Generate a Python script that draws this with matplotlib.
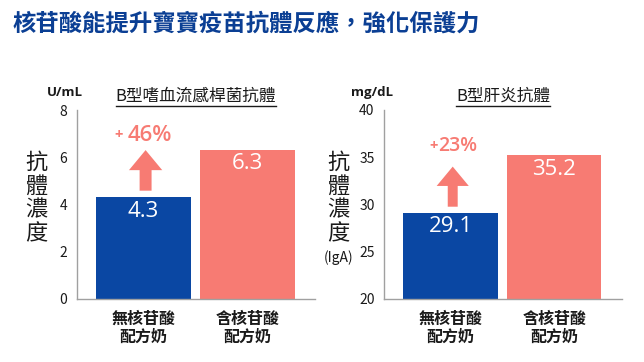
import matplotlib.pyplot as plt
from matplotlib.patches import FancyArrow
from matplotlib.lines import Line2D

plt.rcParams['font.family'] = ['Noto Sans CJK TC', 'DejaVu Sans']

# ---------------------------
# Data
# ---------------------------
categories = ["無核苷酸\n配方奶", "含核苷酸\n配方奶"]
hib_values = [4.3, 6.3]
hep_values = [29.1, 35.2]
hib_ticks = [0, 2, 4, 6, 8]
hep_ticks = [20, 25, 30, 35, 40]
hib_gain = "46%"
hep_gain = "23%"

BLUE = "#0a47a3"
PINK = "#f77b73"
TITLE_BLUE = "#0b3f94"
DARK = "#1a1a1a"
LATIN = ["Open Sans", "DejaVu Sans"]

W, H = 644, 362
fig = plt.figure(figsize=(W / 100, H / 100), dpi=100)


def fx(x):
    return x / W


def fy(y):
    return 1 - y / H


fig.text(fx(13), fy(24), "核苷酸能提升寶寶疫苗抗體反應，強化保護力",
         fontsize=16.8, fontweight="bold", color=TITLE_BLUE, va="center", ha="left")


def panel(left_px, right_px, values, ticks, unit, title, gain, gain_fs, plus_off,
          ylab_lines, ylab_off, shaft_w, head_w, head_len, base_off, top_off, gain_y):
    ax = fig.add_axes([fx(left_px), fy(298.7), (right_px - left_px) / W, 188.7 / H])
    x = [0, 1]
    ax.bar(x, values, width=0.91, color=[BLUE, PINK])
    ax.set_ylim(ticks[0], ticks[-1])
    ax.set_xlim(-0.64, 1.65)
    ax.set_yticks(ticks)
    ax.tick_params(axis="y", length=0, pad=7, labelsize=10, labelcolor=DARK)
    ax.set_xticks(x)
    ax.set_xticklabels(categories, fontsize=11.5, fontweight="bold", color=DARK,
                       linespacing=1.1)
    ax.tick_params(axis="x", length=0, pad=9)
    for s in ["top", "right"]:
        ax.spines[s].set_visible(False)
    for s in ["left", "bottom"]:
        ax.spines[s].set_color("#a0a0a0")
        ax.spines[s].set_linewidth(1)

    # value labels inside bars
    for xi, v in zip(x, values):
        ax.annotate(f"{v}", xy=(xi, v), xytext=(0, -10), textcoords="offset points",
                    ha="center", va="center", color="white", fontsize=16,
                    family=LATIN)

    # arrow from first bar
    y0 = values[0] + base_off
    y1 = values[1] - top_off
    ax.add_patch(FancyArrow(0.02, y0, 0, y1 - y0, width=shaft_w, head_width=head_w,
                            head_length=head_len, length_includes_head=True,
                            color=PINK, linewidth=0))
    ax.annotate(gain, xy=(0.02, gain_y), xytext=(3.3, 0), textcoords="offset points",
                ha="center", va="center", color=PINK, fontsize=gain_fs,
                fontweight="semibold", family=LATIN)
    ax.annotate("+", xy=(0.02, gain_y), xytext=(plus_off, 0),
                textcoords="offset points", ha="right", va="center", color=PINK,
                fontsize=10.5, fontweight="bold", family=LATIN)

    # unit above axis
    fig.text(fx(left_px - 12), fy(92.7), unit, ha="center", va="center",
             fontsize=9.5, fontweight="bold", color=DARK, family=LATIN)

    # underlined title
    cx = fx(left_px + (right_px - left_px) * 0.5)
    t = fig.text(cx, fy(96), title, ha="center", va="center", fontsize=12,
                 color=DARK)
    fig.canvas.draw()
    bb = t.get_window_extent()
    fig.add_artist(Line2D([bb.x0 / W, bb.x1 / W], [bb.y0 / H - 0.003] * 2,
                          color=DARK, linewidth=1))

    # vertical y label
    for i, ch in enumerate(ylab_lines):
        fs = 16 if len(ch) == 1 else 10
        fig.text(fx(left_px - ylab_off), fy(162 + 24 * i), ch, ha="center",
                 va="center", fontsize=fs, color=DARK)
    return ax


ax1 = panel(77, 315, hib_values, hib_ticks, "U/mL", "B型嗜血流感桿菌抗體", hib_gain, 16,
            -16.5, ["抗", "體", "濃", "度"], 41, 0.115, 0.32, 0.85, 0.28, 0.0, 6.94)
ax2 = panel(384.3, 621.7, hep_values, hep_ticks, "mg/dL", "B型肝炎抗體", hep_gain, 14,
            -10.8, ["抗", "體", "濃", "度", "(IgA)"], 46, 0.096, 0.31, 2.05, 0.65, 1.2,
            36.18)

fig.savefig("out.png", dpi=100)
